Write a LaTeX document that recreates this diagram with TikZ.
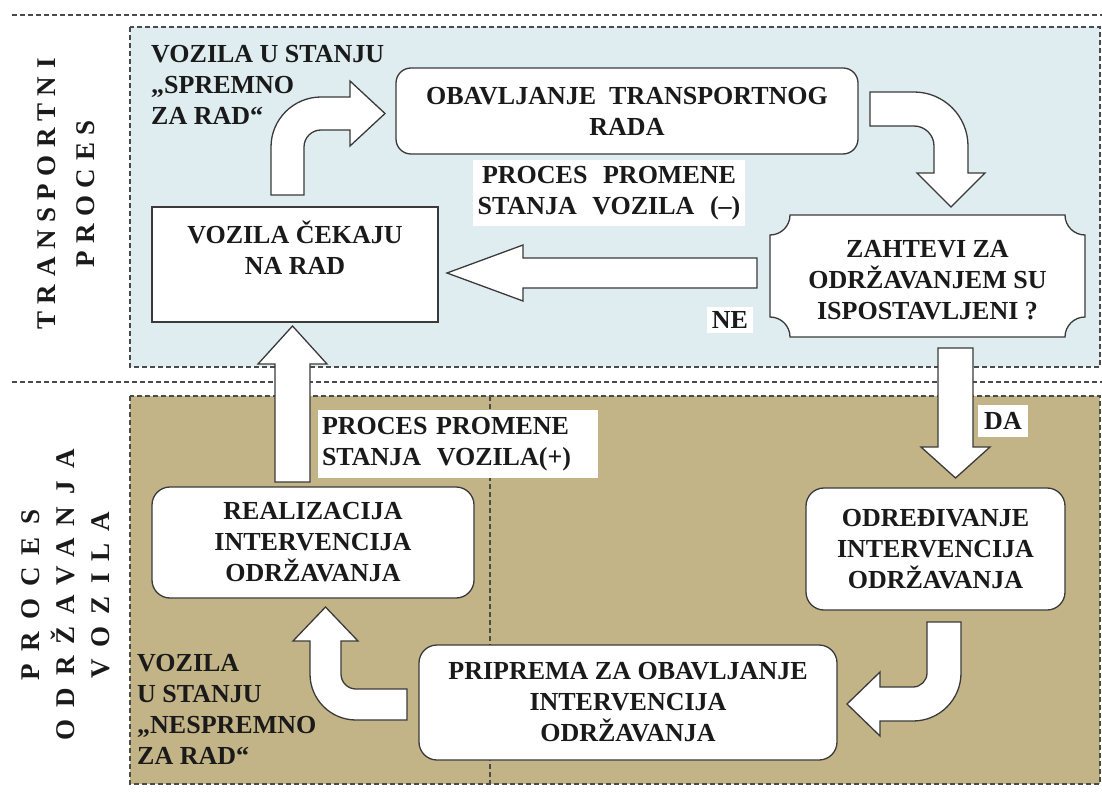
\documentclass[tikz,border=0pt]{standalone}
\usepackage{fontspec}
\setmainfont{Liberation Serif}
\newfontfamily\lanefont[LetterSpace=28]{Liberation Serif}
\newfontfamily\widelanefont[LetterSpace=45]{Liberation Serif}

\definecolor{transbg}{HTML}{DFEDF0}
\definecolor{maintbg}{HTML}{C3B487}
\definecolor{edgegray}{HTML}{3A3A3A}
\definecolor{lanegray}{HTML}{4A4A4A}
\definecolor{ink}{HTML}{1A1A1A}

\newcommand\boxfont{\fontsize{26}{31}\selectfont\bfseries}
\newcommand\lanelabelfont{\lanefont\fontsize{27}{39}\selectfont\bfseries}
\newcommand\widelanelabelfont{\widelanefont\fontsize{27}{35}\selectfont\bfseries}

\begin{document}
\begin{tikzpicture}[x=1pt,y=-1pt,
  lane/.style={draw=lanegray, line width=1.1pt, dash pattern=on 5pt off 3pt},
  card/.style={draw=edgegray, line width=1.3pt, fill=white, rounded corners=#1,
    align=center, font=\boxfont, text=ink, inner sep=0pt},
  card/.default=18pt,
  blockarrow/.style={draw=edgegray, line width=1.3pt, fill=white, line join=miter},
  tag/.style={fill=white, font=\boxfont, text=ink},
  lanelabel/.style={rotate=90, align=center, font=\lanelabelfont, text=ink}]

\useasboundingbox (0,0) rectangle (1102,794);

% swimlanes
\draw[lane] (12,15) -- (1102,15);
\draw[lane, fill=transbg] (130,27) rectangle (1100,367);
\draw[lane] (12,382) -- (1102,382);
\draw[lane, fill=maintbg] (130,396) rectangle (1100,784);
\draw[lane] (490,396) -- (490,784);

\node[lanelabel] (lanetop) at (66,194) {TRANSPORTNI\\PROCES};
\node[lanelabel, font=\widelanelabelfont] (lanebottom) at (66,595)
  {PROCES\\ODRŽAVANJA\\VOZILA};

% process steps
\node[card=15pt, minimum width=462pt, minimum height=86pt] (work) at (627,111)
  {OBAVLJANJE\hspace{0.5em}TRANSPORTNOG\\RADA};
\node[draw=edgegray, line width=1.3pt, fill=white, minimum width=286pt, minimum height=115pt,
  inner sep=0pt, font=\boxfont, text=ink] (idle) at (295,264.5)
  {\parbox[c][88pt][t]{280pt}{\centering VOZILA ČEKAJU\\NA RAD}};

% decision plaque
\path[draw=edgegray, line width=1.3pt, fill=white]
  (790,215) -- (1065,215) arc[start angle=180, end angle=90, radius=20]
  -- (1085,317) arc[start angle=270, end angle=180, radius=20]
  -- (790,337) arc[start angle=0, end angle=-90, radius=20]
  -- (770,235) arc[start angle=90, end angle=0, radius=20] -- cycle;
\node[align=center, font=\boxfont, text=ink, inner sep=0pt] (ask) at (927.5,280)
  {ZAHTEVI ZA\\ODRŽAVANJEM SU\\ISPOSTAVLJENI ?};

\node[card, minimum width=322pt, minimum height=111pt] (repair) at (313,542.5)
  {REALIZACIJA\\INTERVENCIJA\\ODRŽAVANJA};
\node[card, minimum width=259pt, minimum height=122pt] (plan) at (935.5,549)
  {ODREĐIVANJE\\INTERVENCIJA\\ODRŽAVANJA};
\node[card, minimum width=418pt, minimum height=115pt] (prep) at (628,702.5)
  {PRIPREMA ZA OBAVLJANJE\\INTERVENCIJA\\ODRŽAVANJA};

% free labels
\node[anchor=west, align=left, font=\boxfont, text=ink, inner sep=0pt] (ready) at (151,85)
  {VOZILA U STANJU\\„SPREMNO\\ZA RAD“};
\node[anchor=west, align=left, font=\boxfont, text=ink, inner sep=0pt] (notready) at (137,709)
  {VOZILA\\U STANJU\\„NESPREMNO\\ZA RAD“};
\node[tag, minimum width=272pt, minimum height=66pt, align=center, inner sep=0pt] (minus) at (609,193)
  {PROCES\hspace{0.6em}PROMENE\\STANJA\hspace{0.6em}VOZILA\hspace{0.6em}(–)};
\node[tag, minimum width=280pt, minimum height=68pt, text width=272pt, align=left, inner sep=0pt] (plus) at (458,444)
  {PROCES PROMENE\\STANJA\hspace{0.6em}VOZILA(+)};
\node[tag, inner xsep=5pt, inner ysep=4pt] (no) at (730,320) {NE};
\node[tag, inner xsep=6pt, inner ysep=7pt] (yes) at (1003,421) {DA};

% block arrows
\draw[blockarrow] (271,195) -- (271,147) arc[start angle=180, end angle=270, radius=50]
  -- (350,97) -- (350,81) -- (385,113.5) -- (350,146) -- (350,130) -- (321,130)
  arc[start angle=270, end angle=180, radius=17] -- (304,195) -- cycle;
\draw[blockarrow] (870,92) -- (914,92) arc[start angle=270, end angle=360, radius=54]
  -- (968,173) -- (985,173) -- (951,207) -- (917,173) -- (934,173) -- (934,146)
  arc[start angle=0, end angle=-90, radius=20] -- (870,126) -- cycle;
\draw[blockarrow] (757,258) -- (523,258) -- (523,245) -- (447,273) -- (523,301)
  -- (523,288) -- (757,288) -- cycle;
\draw[blockarrow] (938,348) -- (973,348) -- (973,447) -- (990,447) -- (955.5,478)
  -- (921,447) -- (938,447) -- cycle;
\draw[blockarrow] (927,622) -- (961,622) -- (961,673) arc[start angle=0, end angle=90, radius=48]
  -- (880,721) -- (880,736) -- (847,704) -- (880,672) -- (880,687) -- (913,687)
  arc[start angle=90, end angle=0, radius=14] -- cycle;
\draw[blockarrow] (407,689) -- (407,720) -- (356,720) arc[start angle=90, end angle=180, radius=46]
  -- (310,641) -- (293,641) -- (325.5,607) -- (358,641) -- (341,641) -- (341,674)
  arc[start angle=180, end angle=90, radius=15] -- cycle;
\draw[blockarrow] (275,482) -- (275,364) -- (258,364) -- (292.5,326) -- (327,364)
  -- (310,364) -- (310,482) -- cycle;

\end{tikzpicture}
\end{document}
